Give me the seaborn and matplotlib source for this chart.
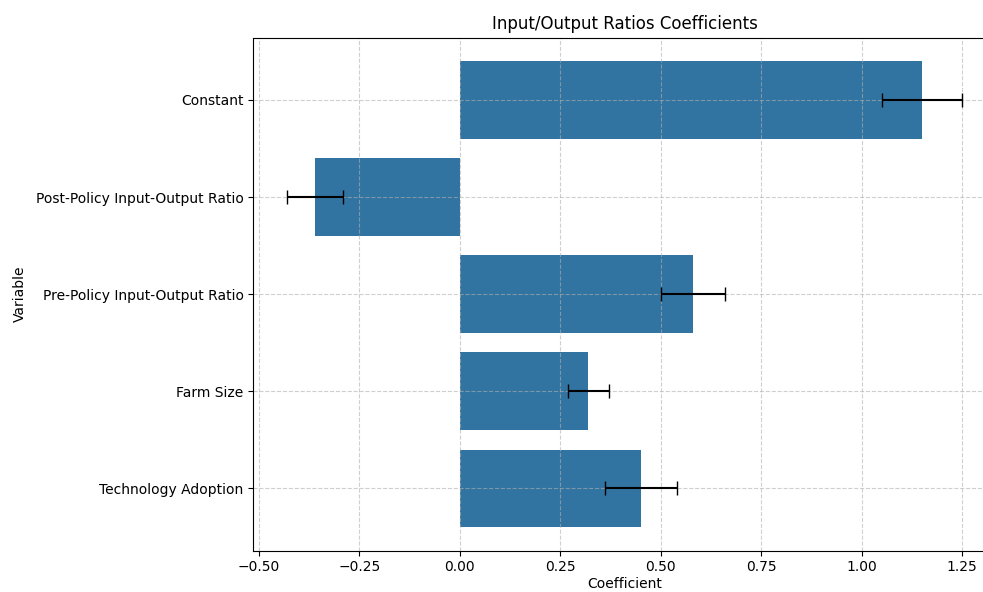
import matplotlib
matplotlib.use("Agg")
import matplotlib.pyplot as plt
import seaborn as sns
import pandas as pd

variables = [
    "Constant",
    "Post-Policy Input-Output Ratio",
    "Pre-Policy Input-Output Ratio",
    "Farm Size",
    "Technology Adoption",
]
coefficients = [1.15, -0.36, 0.58, 0.32, 0.45]
std_errors = [0.10, 0.07, 0.08, 0.05, 0.09]

df = pd.DataFrame({"Variable": variables, "Coefficient": coefficients})

fig = plt.figure(figsize=(9.83, 5.92), dpi=100)
ax = fig.add_axes([0.2577, 0.0698, 0.7555, 0.8666])

sns.barplot(data=df, x="Coefficient", y="Variable", ax=ax, errorbar=None)
ax.errorbar(df["Coefficient"], range(len(df)), xerr=std_errors,
            fmt="none", ecolor="black", capsize=5, elinewidth=1.5)

ax.set_title("Input/Output Ratios Coefficients")
ax.set_xlabel("Coefficient", labelpad=2)
ax.set_ylabel("Variable", labelpad=6)
ax.grid(True, linestyle="--", alpha=0.6)

fig.savefig("out.png", dpi=100)
